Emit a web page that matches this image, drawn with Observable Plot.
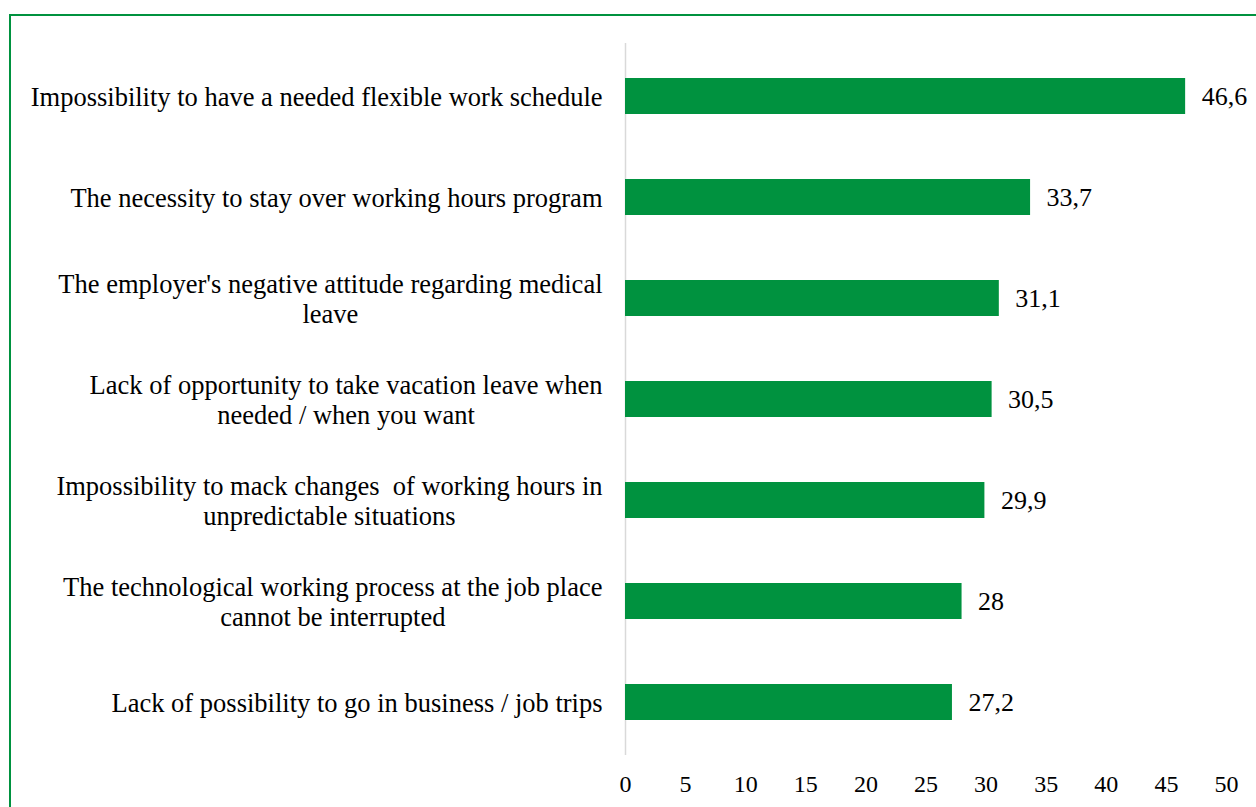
<!DOCTYPE html>
<html><head><meta charset="utf-8">
<script src="https://cdn.jsdelivr.net/npm/d3@7"></script>
<script src="https://cdn.jsdelivr.net/npm/@observablehq/plot@0.6"></script>
<style>
html,body{margin:0;padding:0;background:#fff;overflow:hidden;width:1256px;height:807px}
#frame{position:absolute;left:9px;top:14px;width:1300px;height:900px;border:2px solid #00923f;box-sizing:border-box;pointer-events:none}
#chart{position:absolute;left:0;top:0}
</style></head><body>
<div id="frame"></div><div id="chart"></div>
<script>
const categories = [
  "Impossibility to have a needed flexible work schedule",
  "The necessity to stay over working hours program",
  "The employer's negative attitude regarding medical\nleave",
  "Lack of opportunity to take vacation leave when\nneeded / when you want",
  "Impossibility to mack changes  of working hours in\nunpredictable situations",
  "The technological working process at the job place\ncannot be interrupted",
  "Lack of possibility to go in business / job trips"
];
const values = [46.6, 33.7, 31.1, 30.5, 29.9, 28, 27.2];
const valueLabels = ["46,6", "33,7", "31,1", "30,5", "29,9", "28", "27,2"];
const xTicks = [0, 5, 10, 15, 20, 25, 30, 35, 40, 45, 50];

const data = categories.map((c, i) => ({cat: c, value: values[i], label: valueLabels[i]}));

const FONT = "Liberation Serif";
const catSize = 26.5;
const ctx = document.createElement("canvas").getContext("2d");
ctx.font = `${catSize}px "${FONT}"`;
const textWidth = s => Math.max(...s.split("\n").map(l => ctx.measureText(l).width));

const catMarks = categories.map(c => Plot.text([c], {
  x: () => 0, y: d => d, text: d => d,
  textAnchor: "middle", dx: -(23 + textWidth(c) / 2),
  fontSize: catSize, lineHeight: 30 / catSize, fill: "#000"
}));

const chart = Plot.plot({
  width: 1256,
  height: 807,
  marginLeft: 625,
  marginRight: 30,
  marginTop: 43,
  marginBottom: 52,
  style: {fontFamily: FONT, background: "transparent", color: "#000"},
  x: {domain: [0, 50], ticks: xTicks},
  y: {domain: categories, paddingInner: 0.646, paddingOuter: 0.323, axis: null},
  marks: [
    Plot.ruleX([0], {stroke: "#d9d9d9", strokeWidth: 1.5}),
    Plot.barX(data, {x: "value", y: "cat", fill: "#00923f"}),
    Plot.text(data, {x: "value", y: "cat", text: "label", textAnchor: "start", dx: 16, fontSize: 26, fill: "#000"}),
    Plot.axisX({ticks: xTicks, tickSize: 0, tickPadding: 19, fontSize: 24, label: null, tickFormat: d => String(d), fill: "#000"}),
    ...catMarks
  ]
});
document.getElementById("chart").appendChild(chart);
</script>
</body></html>
